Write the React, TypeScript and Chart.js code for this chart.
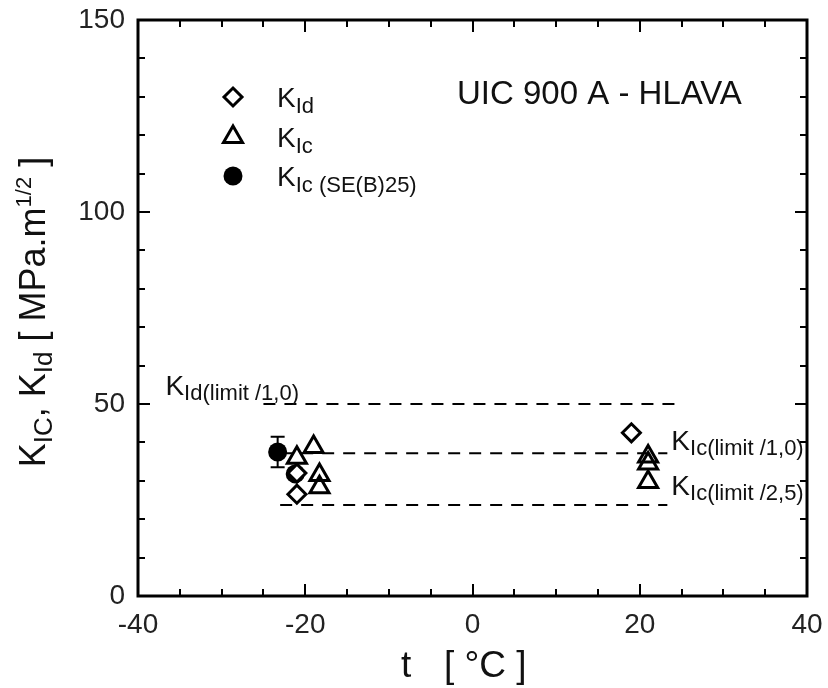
import React, { useEffect, useRef } from 'react';
import { Chart, registerables } from 'chart.js';
Chart.register(...registerables);

// ---- data ----
const kIdX = [-21, -21, 19];
const kIdY = [26.5, 32, 42.5];
const kIcX = [-19, -21, -18.3, -18.3, 21, 21, 21];
const kIcY = [38.8, 36, 31.5, 28.3, 36.3, 34.5, 29.7];
const kSebX = [-23.3, -21.2];
const kSebY = [37.5, 31.8];
const kSebErr = [4, 0];
const limitY = [50, 37.2, 23.7];
const limitX0 = [-25, -23, -23];
const limitX1 = [25, 23.3, 23.3];
const limitMain = ['K', 'K', 'K'];
const limitSub = ['Id(limit /1,0)', 'Ic(limit /1,0)', 'Ic(limit /2,5)'];
const xTicks = [-40, -20, 0, 20, 40];
const yTicks = [0, 50, 100, 150];
const xMinorStep = 5;
const yMinorStep = 10;
const legendSubs = ['Id', 'Ic', 'Ic (SE(B)25)'];
const titleText = 'UIC 900 A - HLAVA';

const FAM = '"Liberation Sans", Arial, Helvetica, sans-serif';

type Part = [string, number, number];

function measureRich(ctx: CanvasRenderingContext2D, parts: Part[]) {
  let w = 0;
  for (const [t, s] of parts) {
    ctx.font = `${s}px ${FAM}`;
    w += ctx.measureText(t).width;
  }
  return w;
}

function drawRich(ctx: CanvasRenderingContext2D, x: number, y: number, parts: Part[]) {
  let cx = x;
  ctx.textAlign = 'left';
  ctx.textBaseline = 'alphabetic';
  for (const [t, s, dy] of parts) {
    ctx.font = `${s}px ${FAM}`;
    ctx.fillText(t, cx, y + dy);
    cx += ctx.measureText(t).width;
  }
  return cx;
}

function drawMarker(ctx: CanvasRenderingContext2D, kind: string, x: number, y: number) {
  ctx.save();
  ctx.lineWidth = 3;
  ctx.strokeStyle = '#000';
  ctx.fillStyle = '#000';
  ctx.beginPath();
  if (kind === 'diamond') {
    const r = 9;
    ctx.moveTo(x, y - r);
    ctx.lineTo(x + r, y);
    ctx.lineTo(x, y + r);
    ctx.lineTo(x - r, y);
    ctx.closePath();
    ctx.fillStyle = '#fff';
    ctx.fill();
    ctx.stroke();
  } else if (kind === 'triangle') {
    const r = 11;
    ctx.moveTo(x, y - r);
    ctx.lineTo(x + 0.866 * r, y + r / 2);
    ctx.lineTo(x - 0.866 * r, y + r / 2);
    ctx.closePath();
    ctx.stroke();
  } else {
    ctx.arc(x, y, 9.5, 0, Math.PI * 2);
    ctx.fill();
  }
  ctx.restore();
}

const decor = {
  id: 'decor',
  beforeDatasetsDraw(chart: any) {
    const ctx = chart.ctx as CanvasRenderingContext2D;
    const xs = chart.scales.x, ys = chart.scales.y;
    ctx.save();
    ctx.strokeStyle = '#000';
    ctx.lineWidth = 2;
    kSebX.forEach((xv, i) => {
      const e = kSebErr[i];
      if (!e) return;
      const px = xs.getPixelForValue(xv);
      const pt = ys.getPixelForValue(kSebY[i] + e);
      const pb = ys.getPixelForValue(kSebY[i] - e);
      ctx.beginPath();
      ctx.moveTo(px, pt); ctx.lineTo(px, pb);
      ctx.moveTo(px - 7, pt); ctx.lineTo(px + 7, pt);
      ctx.moveTo(px - 7, pb); ctx.lineTo(px + 7, pb);
      ctx.stroke();
    });
    ctx.restore();
  },
  afterDraw(chart: any) {
    const ctx = chart.ctx as CanvasRenderingContext2D;
    const ca = chart.chartArea;
    const xs = chart.scales.x, ys = chart.scales.y;
    ctx.save();
    ctx.fillStyle = '#111';

    // limit labels
    const offs: [number, number][] = [[-98, -9], [4, -3], [4, -10]];
    limitY.forEach((v, i) => {
      const px = i === 0 ? xs.getPixelForValue(limitX0[i]) + offs[i][0] : xs.getPixelForValue(limitX1[i]) + offs[i][0];
      const py = ys.getPixelForValue(v) + offs[i][1];
      drawRich(ctx, px, py, [[limitMain[i], 28, 0], [limitSub[i], 22, 5]]);
    });

    // title
    ctx.font = `33px ${FAM}`;
    ctx.textAlign = 'left';
    ctx.fillText(titleText, 457, 104);

    // legend
    const kinds = ['diamond', 'triangle', 'circle'];
    const rowsY = [97, 137, 176];
    kinds.forEach((k, i) => {
      drawMarker(ctx, k, 233, rowsY[i]);
      ctx.fillStyle = '#111';
      drawRich(ctx, 277, rowsY[i] + 10, [['K', 28, 0], [legendSubs[i], 22, 6]]);
    });

    // y title
    ctx.save();
    const yparts: Part[] = [['K', 36, 0], ['IC', 26, 7], [', K', 36, 0], ['Id', 26, 7], [' [ MPa.m', 36, 0], ['1/2', 22, -14], [' ]', 36, 0]];
    const w = measureRich(ctx, yparts);
    ctx.translate(45, (ca.top + ca.bottom) / 2 + 4);
    ctx.rotate(-Math.PI / 2);
    drawRich(ctx, -w / 2, 0, yparts);
    ctx.restore();

    // x title
    ctx.font = `37px ${FAM}`;
    ctx.textAlign = 'left';
    ctx.fillText('t', 401, 677);
    ctx.fillText('[ °C ]', 444, 677);

    // frame
    ctx.strokeStyle = '#000';
    ctx.lineWidth = 3;
    ctx.strokeRect(ca.left, ca.top, ca.right - ca.left, ca.bottom - ca.top);

    // inward ticks
    ctx.lineWidth = 2;
    ctx.beginPath();
    for (let v = xs.min; v <= xs.max + 1e-9; v += xMinorStep) {
      if (v === xs.min || v === xs.max) continue;
      const len = xTicks.includes(v) ? 12 : 7;
      const px = Math.round(xs.getPixelForValue(v));
      ctx.moveTo(px, ca.bottom); ctx.lineTo(px, ca.bottom - len);
      ctx.moveTo(px, ca.top); ctx.lineTo(px, ca.top + len);
    }
    for (let v = ys.min; v <= ys.max + 1e-9; v += yMinorStep) {
      if (v === ys.min || v === ys.max) continue;
      const len = yTicks.includes(v) ? 12 : 7;
      const py = Math.round(ys.getPixelForValue(v));
      ctx.moveTo(ca.left, py); ctx.lineTo(ca.left + len, py);
      ctx.moveTo(ca.right, py); ctx.lineTo(ca.right - len, py);
    }
    ctx.stroke();
    ctx.restore();
  },
};

export default function App() {
  const ref = useRef<HTMLCanvasElement>(null);
  useEffect(() => {
    const toPts = (xs: number[], ys: number[]) => xs.map((x, i) => ({ x, y: ys[i] }));
    const lineSets = limitY.map((v, i) => ({
      type: 'line' as const,
      data: [{ x: limitX0[i], y: v }, { x: limitX1[i], y: v }],
      borderColor: '#000',
      borderWidth: 2,
      borderDash: [12, 9],
      pointRadius: 0,
      showLine: true,
      fill: false,
    }));
    const chart = new Chart(ref.current as HTMLCanvasElement, {
      type: 'scatter',
      data: {
        datasets: [
          {
            data: toPts(kIdX, kIdY),
            pointStyle: 'rectRot',
            pointRadius: 9,
            borderWidth: 3,
            borderColor: '#000',
            backgroundColor: '#fff',
          },
          {
            data: toPts(kSebX, kSebY),
            pointStyle: 'circle',
            pointRadius: 9.5,
            borderWidth: 0,
            borderColor: '#000',
            backgroundColor: '#000',
          },
          {
            data: toPts(kIcX, kIcY),
            pointStyle: 'triangle',
            pointRadius: 11,
            borderWidth: 3,
            borderColor: '#000',
            backgroundColor: 'rgba(0,0,0,0)',
          },
          ...lineSets,
        ] as any,
      },
      options: {
        responsive: false,
        animation: false,
        devicePixelRatio: 1,
        events: [],
        layout: { padding: { top: 20, right: 21, left: 0, bottom: 0 } },
        plugins: { legend: { display: false }, tooltip: { enabled: false } },
        scales: {
          x: {
            type: 'linear',
            min: -40,
            max: 40,
            grid: { display: false, drawTicks: false },
            border: { display: false },
            afterBuildTicks: (s: any) => { s.ticks = xTicks.map((v) => ({ value: v })); },
            afterFit: (s: any) => { s.height = 92; s.paddingLeft = 0; s.paddingRight = 0; },
            ticks: { font: { family: FAM, size: 28 }, color: '#222', padding: 12, maxRotation: 0, autoSkip: false },
          },
          y: {
            type: 'linear',
            min: 0,
            max: 150,
            grid: { display: false, drawTicks: false },
            border: { display: false },
            afterBuildTicks: (s: any) => { s.ticks = yTicks.map((v) => ({ value: v })); },
            afterFit: (s: any) => { s.width = 138; s.paddingTop = 0; s.paddingBottom = 0; },
            ticks: { font: { family: FAM, size: 28 }, color: '#222', padding: 13, autoSkip: false },
          },
        },
      },
      plugins: [decor],
    } as any);
    return () => chart.destroy();
  }, []);
  return (
    <div style={{ position: 'fixed', left: 0, top: 0, width: 828, height: 688, background: '#fff' }}>
      <canvas ref={ref} width={828} height={688} style={{ display: 'block', width: 828, height: 688 }} />
    </div>
  );
}
